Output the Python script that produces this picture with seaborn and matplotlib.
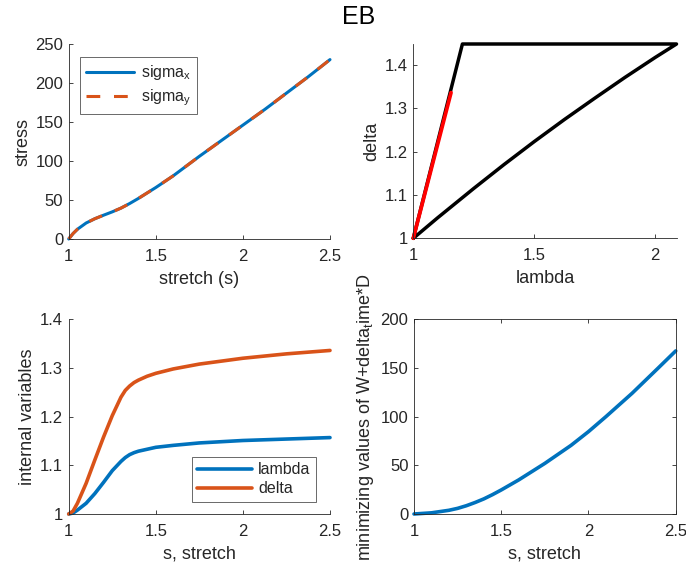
import matplotlib
matplotlib.use("Agg")
import matplotlib.pyplot as plt
import seaborn as sns
import pandas as pd
from matplotlib.ticker import FuncFormatter, FixedLocator

# ---- stress vs stretch ----
stretch = [1.0, 1.025, 1.05, 1.1, 1.15, 1.2, 1.25, 1.3, 1.35, 1.4, 1.5, 1.6, 1.75,
           1.875, 2.0, 2.125, 2.25, 2.375, 2.5]
sigma_x = [0, 7, 12.5, 20.5, 26, 30.5, 34.8, 39.6, 45.5, 52, 66, 81, 106,
           126, 146, 166, 187, 208, 230]
sigma_y = [0, 7, 12.5, 20.5, 26, 30.5, 34.8, 39.6, 45.5, 52, 66, 81, 106,
           126, 146, 166, 187, 208, 230]

# ---- internal variables vs stretch ----
s_int = [1.0, 1.025, 1.05, 1.1, 1.15, 1.2, 1.25, 1.3, 1.325, 1.35, 1.375, 1.4,
         1.45, 1.5, 1.6, 1.75, 2.0, 2.25, 2.5]
lambda_vals = [1.0, 1.002, 1.008, 1.022, 1.042, 1.065, 1.089, 1.108, 1.116,
               1.122, 1.126, 1.129, 1.133, 1.137, 1.141, 1.146, 1.151, 1.154, 1.157]
delta_vals = [1.0, 1.006, 1.022, 1.063, 1.111, 1.158, 1.202, 1.240, 1.254,
              1.263, 1.270, 1.275, 1.283, 1.289, 1.298, 1.308, 1.320, 1.329, 1.336]

# ---- admissible region in the (lambda, delta) plane ----
region_lambda = [1.0, 1.203, 2.088, 2.0, 1.875, 1.75, 1.625, 1.5, 1.375, 1.25, 1.1, 1.0]
region_delta = [1.0, 1.448, 1.448, 1.417, 1.371, 1.323, 1.274, 1.223, 1.170,
                1.115, 1.047, 1.0]
path_lambda = [1.0, 1.156]
path_delta = [1.0, 1.336]

# ---- minimised energy vs stretch ----
s_energy = [1.0, 1.1, 1.2, 1.25, 1.3, 1.35, 1.4, 1.45, 1.5, 1.6, 1.75, 1.9, 2.0,
            2.1, 2.25, 2.4, 2.5]
energy = [0, 1.2, 3.8, 5.8, 8.5, 11.8, 15.5, 19.9, 24.7, 35, 52, 70.5, 84.6,
          100, 124, 150, 167.5]

BLUE = "#0072BD"
ORANGE = "#D95319"
INK = "#262626"

sns.set_style("ticks")
plt.rcParams.update({
    "font.family": ["Liberation Sans", "DejaVu Sans"],
    "mathtext.default": "regular",
    "font.size": 12,
    "axes.edgecolor": INK,
    "axes.labelcolor": INK,
    "axes.linewidth": 0.6,
    "xtick.color": INK,
    "ytick.color": INK,
    "xtick.direction": "in",
    "ytick.direction": "in",
    "xtick.major.size": 3,
    "ytick.major.size": 3,
    "xtick.major.width": 0.6,
    "ytick.major.width": 0.6,
    "xtick.major.pad": 7,
    "ytick.major.pad": 4,
    "xtick.labelsize": 12,
    "ytick.labelsize": 12,
    "axes.labelsize": 13,
    "axes.labelpad": 3,
    "legend.fontsize": 11.5,
})

W, H = 686, 567
fig = plt.figure(figsize=(W / 100, H / 100), dpi=100)


def add_axes(left, top, right, bottom):
    return fig.add_axes([left / W, 1 - bottom / H, (right - left) / W, (bottom - top) / H])


ax_tl = add_axes(68.7, 44, 330, 239)
ax_tr = add_axes(413.3, 44, 676.5, 238.3)
ax_bl = add_axes(68.7, 319.3, 330, 514)
ax_br = add_axes(414, 319.3, 675.7, 514)

fmt = FuncFormatter(lambda v, p: f"{v:g}")
LW = 2.2

# top-left: stresses
df_s = pd.DataFrame({"s": stretch, "sx": sigma_x, "sy": sigma_y})
sns.lineplot(data=df_s, x="s", y="sx", ax=ax_tl, color=BLUE, lw=LW,
             label="sigma$_x$", clip_on=False)
sns.lineplot(data=df_s, x="s", y="sy", ax=ax_tl, color=ORANGE, lw=LW,
             linestyle=(0, (4.5, 4.5)), label="sigma$_y$", clip_on=False)
ax_tl.set_xlim(1, 2.5)
ax_tl.set_ylim(0, 250)
ax_tl.xaxis.set_major_locator(FixedLocator([1, 1.5, 2, 2.5]))
ax_tl.yaxis.set_major_locator(FixedLocator([0, 50, 100, 150, 200, 250]))
ax_tl.set_xlabel("stretch (s)", labelpad=5)
ax_tl.set_ylabel("stress")
leg = ax_tl.legend(loc="upper left", bbox_to_anchor=(0.043, 0.933), borderaxespad=0,
                   frameon=True, fancybox=False, edgecolor=INK, handlelength=3.0,
                   handletextpad=0.4, labelspacing=0.3, borderpad=0.4)
leg.get_frame().set_linewidth(0.6)

# top-right: region in lambda-delta plane
df_r = pd.DataFrame({"lam": region_lambda, "dl": region_delta})
df_p = pd.DataFrame({"lam": path_lambda, "dl": path_delta})
sns.lineplot(data=df_r, x="lam", y="dl", ax=ax_tr, color="black", lw=2.5,
             sort=False, estimator=None, clip_on=False)
sns.lineplot(data=df_p, x="lam", y="dl", ax=ax_tr, color="red", lw=2.7,
             sort=False, estimator=None, clip_on=False)
ax_tr.set_xlim(1, 2.088)
ax_tr.set_ylim(1, 1.448)
ax_tr.xaxis.set_major_locator(FixedLocator([1, 1.5, 2]))
ax_tr.yaxis.set_major_locator(FixedLocator([1, 1.1, 1.2, 1.3, 1.4]))
ax_tr.set_xlabel("lambda", labelpad=5)
ax_tr.set_ylabel("delta")

# bottom-left: internal variables
df_i = pd.DataFrame({"s": s_int, "lam": lambda_vals, "dl": delta_vals})
sns.lineplot(data=df_i, x="s", y="lam", ax=ax_bl, color=BLUE, lw=LW + 0.4,
             label="lambda", clip_on=False)
sns.lineplot(data=df_i, x="s", y="dl", ax=ax_bl, color=ORANGE, lw=LW + 0.4,
             label="delta", clip_on=False)
ax_bl.set_xlim(1, 2.5)
ax_bl.set_ylim(1, 1.4)
ax_bl.xaxis.set_major_locator(FixedLocator([1, 1.5, 2, 2.5]))
ax_bl.yaxis.set_major_locator(FixedLocator([1, 1.1, 1.2, 1.3, 1.4]))
ax_bl.set_xlabel("s, stretch", labelpad=5)
ax_bl.set_ylabel("internal variables")
leg = ax_bl.legend(loc="lower right", bbox_to_anchor=(0.946, 0.062), borderaxespad=0,
                   frameon=True, fancybox=False, edgecolor=INK, handlelength=3.4,
                   handletextpad=0.4, labelspacing=0.25, borderpad=0.35)
leg.get_frame().set_linewidth(0.6)

# bottom-right: minimised energy
df_e = pd.DataFrame({"s": s_energy, "e": energy})
sns.lineplot(data=df_e, x="s", y="e", ax=ax_br, color=BLUE, lw=LW + 0.4, clip_on=False)
ax_br.set_xlim(1, 2.5)
ax_br.set_ylim(0, 200)
ax_br.xaxis.set_major_locator(FixedLocator([1, 1.5, 2, 2.5]))
ax_br.yaxis.set_major_locator(FixedLocator([0, 50, 100, 150, 200]))
ax_br.set_xlabel("s, stretch", labelpad=5)
ax_br.set_ylabel("minimizing values of W+delta$_t$ime*D")
ax_br.tick_params(top=True, right=True)

for ax in (ax_tl, ax_tr, ax_bl, ax_br):
    ax.xaxis.set_major_formatter(fmt)
    ax.yaxis.set_major_formatter(fmt)
    ax.set_facecolor("white")
for ax in (ax_tl, ax_tr, ax_bl):
    sns.despine(ax=ax)

fig.text(359 / W, 1 - 17 / H, "EB", ha="center", va="center", fontsize=18, color="black")

fig.savefig("out.png", dpi=100, facecolor="white")
